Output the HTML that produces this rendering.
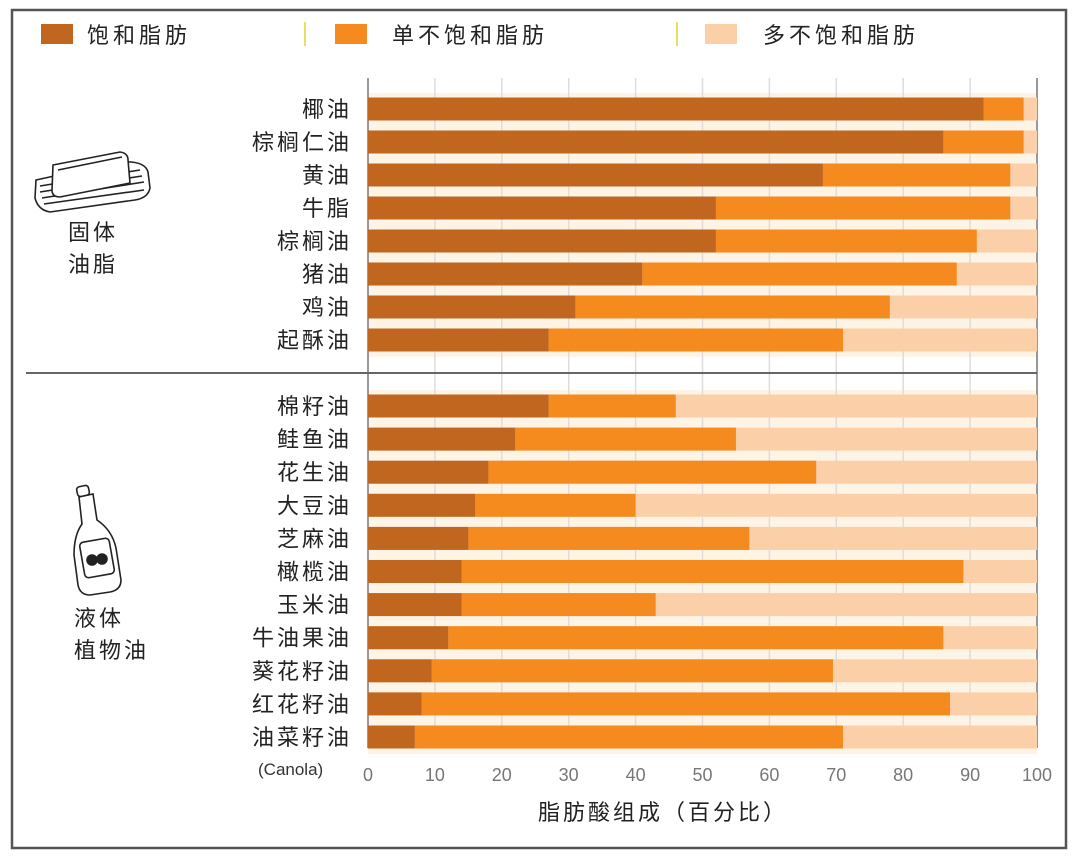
<!DOCTYPE html>
<html><head><meta charset="utf-8"><style>
body{margin:0;background:#fff;}
svg text{font-family:"Liberation Sans","Noto Sans CJK SC",sans-serif;}
</style></head><body>
<svg width="1080" height="857" viewBox="0 0 1080 857">
<rect x="12" y="10" width="1054" height="838" fill="#fff" stroke="#555" stroke-width="2.5"/>
<g>
 <g><rect x="41" y="24" width="32" height="20" fill="#c0661f"/><text x="87" y="43" font-size="22" fill="#222" letter-spacing="4">饱和脂肪</text></g>
 <line x1="305" y1="22" x2="305" y2="46" stroke="#e6e060" stroke-width="2"/>
 <g><rect x="335" y="24" width="32" height="20" fill="#f58a1f"/><text x="392" y="43" font-size="22" fill="#222" letter-spacing="4">单不饱和脂肪</text></g>
 <line x1="677" y1="22" x2="677" y2="46" stroke="#e6e060" stroke-width="2"/>
 <g><rect x="705" y="24" width="32" height="20" fill="#fbd0a8"/><text x="763" y="43" font-size="22" fill="#222" letter-spacing="4">多不饱和脂肪</text></g>
</g>
<g id="grid"></g>
<g id="bars"></g>
<g id="labels"></g>
<g id="ticks"></g>
<line x1="26" y1="373" x2="1037" y2="373" stroke="#666" stroke-width="2"/>
<text x="258" y="775" font-size="17" fill="#333">(Canola)</text>
<text x="538" y="820" font-size="22" fill="#222" letter-spacing="3">脂肪酸组成（百分比）</text>
<g fill="none" stroke="#222" stroke-width="1.6">
 <path d="M36 180 L118 162 Q145 160 148 172 L150 188 Q148 198 135 200 L50 212 Q38 210 35 198 Z"/>
 <path d="M40 186 L140 170 M40 192 L142 176 M42 198 L144 182 M44 204 L144 190"/>
 <path d="M53 165 L120 152 Q128 153 128 160 L130 183 L60 197 Q52 197 52 190 Z" fill="#fff"/>
 <path d="M58 170 L122 157"/>
</g>
<text x="68" y="240" font-size="22" fill="#222" letter-spacing="3">固体</text>
<text x="68" y="272" font-size="22" fill="#222" letter-spacing="3">油脂</text>
<g fill="none" stroke="#222" stroke-width="1.6">
 <rect x="77" y="486" width="12" height="10" rx="3" transform="rotate(-12 83 491)"/>
 <path d="M79 497 L93 494 L97 520 Q112 530 116 548 L121 580 Q121 590 110 592 L90 595 Q80 595 78 585 L74 555 Q74 535 82 524 Z" fill="#fff"/>
 <rect x="82" y="540" width="30" height="36" rx="4" transform="rotate(-10 97 558)"/>
 <circle cx="92" cy="560" r="5" fill="#222"/><circle cx="102" cy="559" r="5" fill="#222"/>
</g>
<text x="74" y="626" font-size="22" fill="#222" letter-spacing="3">液体</text>
<text x="74" y="658" font-size="22" fill="#222" letter-spacing="3">植物油</text>
<script>
const categories=["椰油","棕榈仁油","黄油","牛脂","棕榈油","猪油","鸡油","起酥油","棉籽油","鲑鱼油","花生油","大豆油","芝麻油","橄榄油","玉米油","牛油果油","葵花籽油","红花籽油","油菜籽油"];
const saturated=[92,86,68,52,52,41,31,27,27,22,18,16,15,14,14,12,9.5,8,7];
const mono=[6,12,28,44,39,47,47,44,19,33,49,24,42,75,29,74,60,79,64];
const tickLabels=["0","10","20","30","40","50","60","70","80","90","100"];
const NS="http://www.w3.org/2000/svg";
const x0=368,x1=1037;
function xs(v){return x0+(x1-x0)*v/100;}
function yc(i){return i<8?109+i*33:406+(i-8)*33.1;}
function mk(tag,attrs,parent){const e=document.createElementNS(NS,tag);for(const k in attrs)e.setAttribute(k,attrs[k]);parent.appendChild(e);return e;}
const grid=document.getElementById('grid'),bars=document.getElementById('bars'),labels=document.getElementById('labels'),ticks=document.getElementById('ticks');
mk('rect',{x:x0,y:78,width:x1-x0,height:670,fill:'#fff'},grid);
categories.forEach((c,i)=>{const r=mk('rect',{x:x0,y:yc(i)-16,width:x1-x0,height:33,fill:'#fdf4e6'},grid);});
tickLabels.forEach((t,i)=>{const v=i*10;
 const l=mk('line',{x1:xs(v),y1:78,x2:xs(v),y2:748,stroke:(i==0||i==10)?'#999':'#ddd','stroke-width':(i==0||i==10)?2:1.5},grid);
 
 
 const tx=mk('text',{x:xs(v),y:781,'font-size':18,fill:'#777','text-anchor':'middle'},ticks);tx.textContent=t;
 
 
});
categories.forEach((c,i)=>{const y=yc(i)-11.5,h=23;
 const p=mk('rect',{x:xs(0),y:y,width:xs(100)-xs(0),height:h,fill:'#fbd0a8'},bars);
 
 
 const m=mk('rect',{x:xs(saturated[i]),y:y,width:xs(saturated[i]+mono[i])-xs(saturated[i]),height:h,fill:'#f58a1f'},bars);
 
 
 const s=mk('rect',{x:xs(0),y:y,width:xs(saturated[i])-xs(0),height:h,fill:'#c0661f'},bars);
 
 
 const t=mk('text',{x:352,y:yc(i)+8,'font-size':22,fill:'#222','text-anchor':'end','letter-spacing':3},labels);t.textContent=c;
 
 
});
</script>
</svg>
</body></html>
